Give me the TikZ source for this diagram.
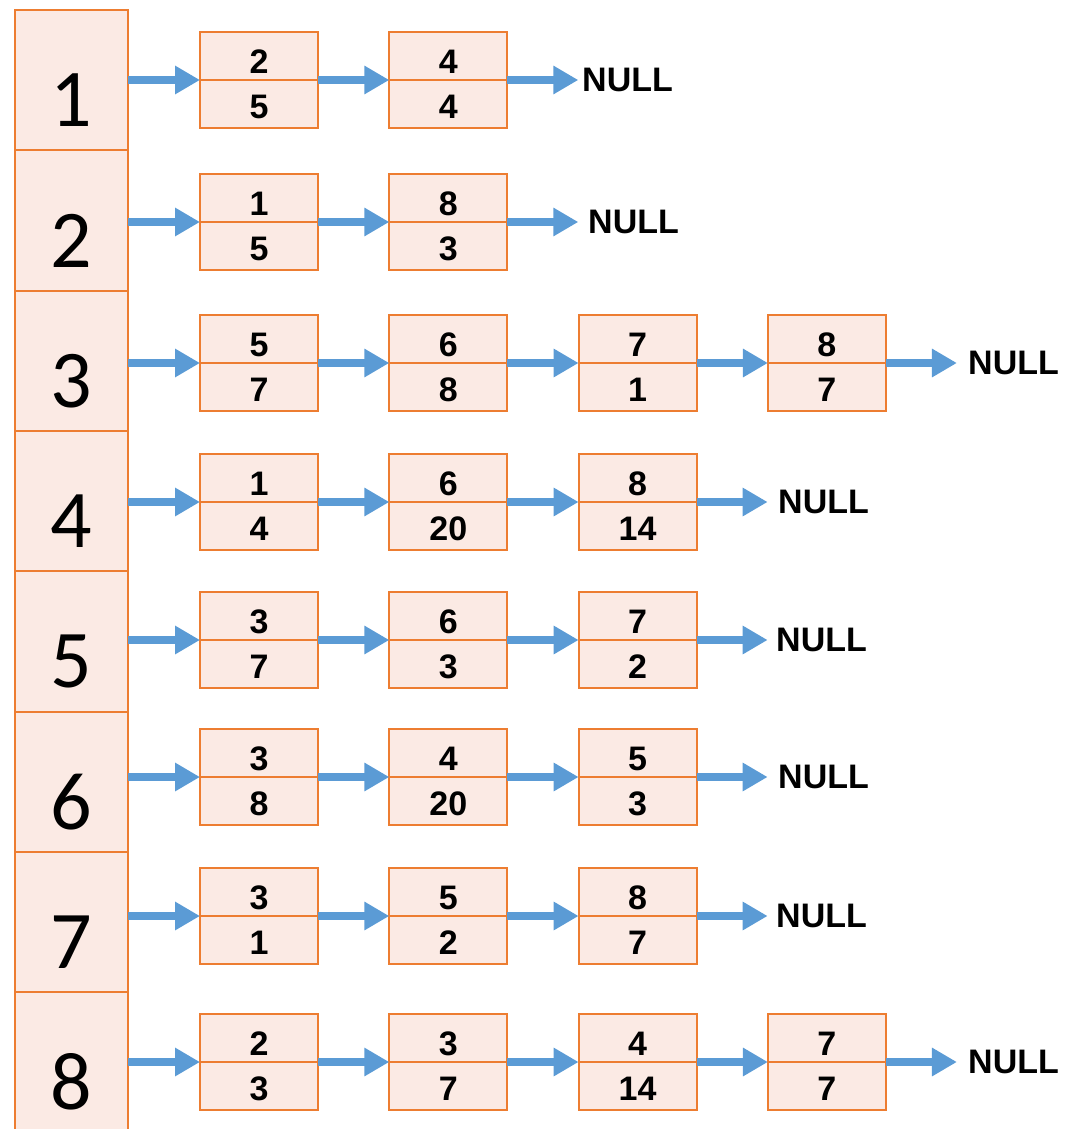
\documentclass[tikz,border=0pt]{standalone}
\usepackage{fontspec}
\setmainfont{Liberation Sans}
\newfontfamily\calibfont{Carlito}
\usetikzlibrary{arrows.meta,calc}
\definecolor{boxfill}{HTML}{FBEAE4}
\definecolor{boxline}{HTML}{ED7D31}
\definecolor{arrowblue}{HTML}{5B9BD5}
\begin{document}
\begin{tikzpicture}[x=1pt,y=-1pt,
  cell/.style={draw=boxline, fill=boxfill, line width=2pt, minimum width=113pt, minimum height=140.3pt, inner sep=0pt, outer sep=0pt},
  rec/.style={draw=boxline, fill=boxfill, line width=2pt, minimum width=118pt, minimum height=96pt, inner sep=0pt, outer sep=0pt},
  divider/.style={draw=boxline, line width=2pt},
  val/.style={font=\bfseries\fontsize{34}{34}\selectfont, inner sep=0pt},
  nulltext/.style={font=\bfseries\fontsize{34}{34}\selectfont, inner sep=0pt, anchor=west},
  bignum/.style={font=\calibfont\fontsize{82}{82}\selectfont, inner sep=0pt},
  link/.style={draw=arrowblue, line width=8pt, -{Triangle[length=25pt,width=27pt,fill=arrowblue]}},
]
\useasboundingbox (0,0) rectangle (1077,1129);
\clip (0,0) rectangle (1077,1129);
% index column
\foreach \i in {1,...,8}{
  \pgfmathsetmacro\cy{10+140.3*(\i-0.5)}
  \node[cell] (c\i) at (71.5,\cy) {};
  \node[bignum] (n\i) at (71.5,\cy+20) {\i};
}
% adjacency lists
\foreach \r/\y/\n/\vals/\nx in {
  1/80/2/{2/5,4/4}/582,
  2/222/2/{1/5,8/3}/588,
  3/363/4/{5/7,6/8,7/1,8/7}/968,
  4/502/3/{1/4,6/20,8/14}/778,
  5/640/3/{3/7,6/3,7/2}/776,
  6/777/3/{3/8,4/20,5/3}/778,
  7/916/3/{3/1,5/2,8/7}/776,
  8/1062/4/{2/3,3/7,4/14,7/7}/968}{
  \foreach \t/\u [count=\k] in \vals {
    \pgfmathsetmacro\cx{259+189.3*(\k-1)}
    \node[rec] (b\r-\k) at (\cx,\y) {};
    \draw[divider] (b\r-\k.west) -- (b\r-\k.east);
    \node[val] (t\r-\k) at (\cx,\y-18.5) {\t};
    \node[val] (u\r-\k) at (\cx,\y+27) {\u};
  }
  \draw[link] (c\r.east |- b\r-1.west) -- (b\r-1.west);
  \foreach \k in {2,...,\n}{
    \pgfmathtruncatemacro\p{\k-1}
    \draw[link] (b\r-\p.east) -- (b\r-\k.west);
  }
  \coordinate (e\r) at ($(b\r-\n.east)+(71,0)$);
  \draw[link] (b\r-\n.east) -- (e\r);
  \node[nulltext] (null\r) at (\nx,\y) {NULL};
}
\end{tikzpicture}
\end{document}
